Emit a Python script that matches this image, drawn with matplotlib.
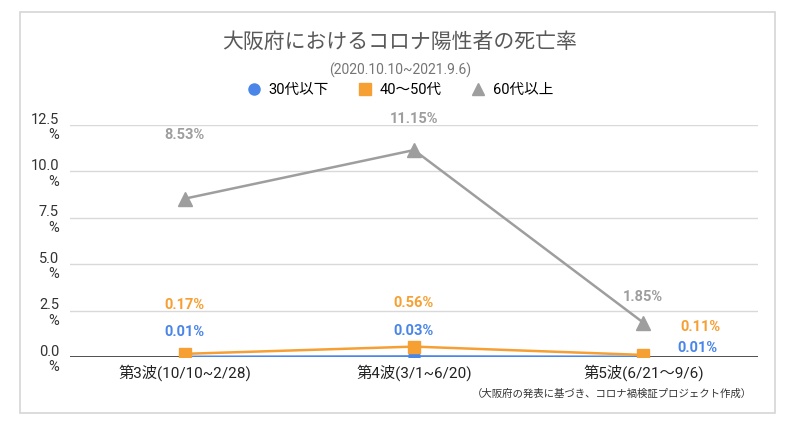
import matplotlib.pyplot as plt
from matplotlib.patches import Rectangle

plt.rcParams['font.family'] = ['Roboto', 'Noto Sans CJK JP', 'DejaVu Sans']

waves = ['第3波(10/10~2/28)', '第4波(3/1~6/20)', '第5波(6/21～9/6)']
u30 = [0.01, 0.03, 0.01]
s40_50 = [0.17, 0.56, 0.11]
o60 = [8.53, 11.15, 1.85]
yticks = [0, 2.5, 5.0, 7.5, 10.0, 12.5]

# label offsets in pixels (dx, dy) for each point
off30 = [(0, 25), (0, 25), (54, 9)]
off40 = [(0, 49), (0, 44), (57, 28)]
off60 = [(0, 64), (0, 31), (0, 26)]

c_blue = '#4a86e8'
c_orange = '#f6a033'
c_gray = '#9e9e9e'

fig = plt.figure(figsize=(8, 4.25), dpi=100)
fig.patches.append(Rectangle((20/800, 12/425), 755/800, 401/425, transform=fig.transFigure,
                             fill=False, edgecolor='#d6d6d6', linewidth=1.2))

ax = fig.add_axes([70/800, 1-357/425, 688/800, 232/425])
x = range(len(waves))

ax.plot(x, o60, color=c_gray, lw=1.8, marker='^', ms=10, label='60代以上', zorder=3)
ax.plot(x, u30, color=c_blue, lw=1.8, marker='o', ms=8, label='30代以下', zorder=4)
ax.plot(x, s40_50, color=c_orange, lw=1.8, marker='s', ms=9, label='40～50代', zorder=5)

for vals, offs, col in [(o60, off60, c_gray), (s40_50, off40, c_orange), (u30, off30, c_blue)]:
    for i, v in enumerate(vals):
        ax.annotate(f'{v:.2f}%', (i, v), xytext=offs[i], textcoords='offset pixels',
                    ha='center', va='center', color=col, fontsize=10.5, fontweight='bold')

ax.set_xlim(-0.5, 2.5)
ax.set_ylim(0, 12.5)
ax.set_yticks(yticks)
ax.set_yticklabels([f'{t:.1f}\n%' for t in yticks], fontsize=10.5, color='#333333',
                   linespacing=1.15)
for t in ax.get_yticklabels():
    t.set_ha('right')
    t.set_multialignment('right')
ax.set_xticks(list(x))
ax.set_xticklabels(waves, fontsize=11, color='#222222')
ax.tick_params(axis='y', length=0, pad=8)
ax.tick_params(axis='x', length=0, pad=5)
ax.grid(axis='y', color='#d9d9d9', lw=1)
ax.axhline(0, color='#333333', lw=1.2, zorder=2)
for s in ax.spines.values():
    s.set_visible(False)
ax.set_axisbelow(True)

fig.text(0.5, 1-42/425, '大阪府におけるコロナ陽性者の死亡率', ha='center', va='center',
         fontsize=15, color='#595959')
fig.text(0.5, 1-70/425, '(2020.10.10~2021.9.6)', ha='center', va='center',
         fontsize=10, color='#757575')

h, l = ax.get_legend_handles_labels()
order = [1, 2, 0]
leg = fig.legend([h[i] for i in order], [l[i] for i in order], loc='center',
                 bbox_to_anchor=(0.5, 1-90/425), ncol=3, frameon=False, fontsize=10.5,
                 handlelength=1.0, columnspacing=2.0, handletextpad=0.5)
for hd in leg.legend_handles:
    hd.set_linestyle('none')
    hd.set_markersize(8)

fig.text(752/800, 1-394/425, '（大阪府の発表に基づき、コロナ禍検証プロジェクト作成）', ha='right',
         va='center', fontsize=7.5, color='#333333')

fig.savefig('out.png', dpi=100)
